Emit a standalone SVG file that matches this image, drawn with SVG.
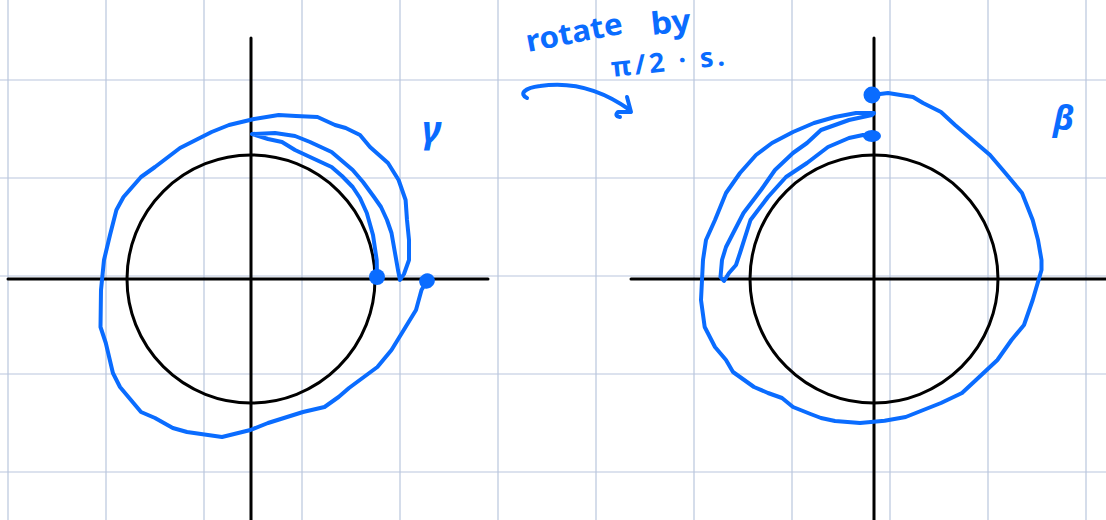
<svg xmlns="http://www.w3.org/2000/svg" width="1106" height="520" viewBox="0 0 1106 520">
<style>
.grid{stroke:#b9c6dd;stroke-width:1.2}
.ax{stroke:#000;stroke-width:3;fill:none;stroke-linecap:round}
.ink{stroke:#0a6cff;stroke-width:4;fill:none;stroke-linecap:round;stroke-linejoin:round}
.dot{fill:#0a6cff}
.hand{fill:#0a6cff;font-family:"Noto Sans","DejaVu Sans",sans-serif;font-weight:bold}
</style>
<rect width="1106" height="520" fill="#fff"/>
<g id="grid">
<line class="grid" x1="8" y1="0" x2="8" y2="520"/>
<line class="grid" x1="106" y1="0" x2="106" y2="520"/>
<line class="grid" x1="204" y1="0" x2="204" y2="520"/>
<line class="grid" x1="302" y1="0" x2="302" y2="520"/>
<line class="grid" x1="400" y1="0" x2="400" y2="520"/>
<line class="grid" x1="498" y1="0" x2="498" y2="520"/>
<line class="grid" x1="596" y1="0" x2="596" y2="520"/>
<line class="grid" x1="694" y1="0" x2="694" y2="520"/>
<line class="grid" x1="792" y1="0" x2="792" y2="520"/>
<line class="grid" x1="890" y1="0" x2="890" y2="520"/>
<line class="grid" x1="988" y1="0" x2="988" y2="520"/>
<line class="grid" x1="1086" y1="0" x2="1086" y2="520"/>
<line class="grid" x1="0" y1="80" x2="1106" y2="80"/>
<line class="grid" x1="0" y1="178" x2="1106" y2="178"/>
<line class="grid" x1="0" y1="276" x2="1106" y2="276"/>
<line class="grid" x1="0" y1="374" x2="1106" y2="374"/>
<line class="grid" x1="0" y1="472" x2="1106" y2="472"/>
</g>
<g id="left-plot">
<line class="ax" x1="251" y1="38" x2="251" y2="520"/>
<line class="ax" x1="8" y1="279" x2="488" y2="279"/>
<circle class="ax" cx="251" cy="279" r="124"/>
</g>
<g id="right-plot">
<line class="ax" x1="874" y1="38" x2="874" y2="520"/>
<line class="ax" x1="631" y1="279" x2="1106" y2="279"/>
<circle class="ax" cx="874" cy="279" r="124"/>
</g>
<g id="gamma">
<path class="ink" d="M 377 277 L 376.7 260 L 373 235 L 366.8 213 L 360 198 L 352.7 187 L 342 176 L 331.6 167 L 310 157 L 295 150 L 282 142 L 268 139 L 252 134 L 275 133 L 295 136 L 310 142 L 331.6 152 L 352.7 170 L 363 182 L 374 197 L 381 207 L 387 220 L 391.5 233 L 395 253 L 398 270 L 400 280 L 404 274 L 409 260 L 409 240 L 407 220 L 405.6 200 L 398.6 180 L 388 163 L 370 147 L 360 135 L 345.7 128 L 335 125 L 317.5 117 L 296 116 L 278.7 115 L 254 119 L 229 125 L 211.6 132 L 180 148 L 155 167 L 141 177 L 123.5 197 L 116.4 210 L 110 235 L 104 260 L 101 290 L 100.5 327 L 105.8 343 L 112.9 373 L 120 387 L 141 412 L 155 418 L 172.8 428 L 187 432 L 222 437 L 250.4 430 L 268 423 L 303 412 L 324.5 407 L 338.6 397 L 349 388 L 377.4 367 L 391.5 350 L 405.6 327 L 416 310 L 421.5 290 L 426.8 281"/>
<circle class="dot" cx="377" cy="277" r="8"/>
<ellipse class="dot" cx="427" cy="281" rx="8" ry="7.5" transform="rotate(-30 427 281)"/>
<text class="hand" x="422" y="143" font-size="38" font-style="italic">γ</text>
</g>
<g id="beta">
<path class="ink" d="M 872 95 L 888 93 L 913 97 L 923 103 L 941 112 L 955 125 L 976 143 L 990 155 L 1004.5 172 L 1022 193 L 1032.7 220 L 1038 240 L 1041.5 260 L 1041.5 270 L 1032.7 300 L 1024 325 L 1011.5 340 L 997.4 360 L 976 380 L 962 393 L 941 403 L 905.7 417 L 884.6 420.7 L 860 423 L 835 421 L 821 418 L 810.5 414 L 793 407 L 782 398 L 768 393 L 754 387 L 733 372 L 726 360 L 715 347 L 704.7 327 L 701 300 L 703 260 L 706 240 L 715 220 L 726 193 L 740 173 L 756 155 L 772 143 L 793 132 L 814 123 L 835 117 L 856 113 L 874 113 L 872 115 L 849 120 L 821 130 L 807 143 L 793 153 L 775 170 L 761 190 L 743.5 213 L 726 247 L 722 260 L 720.5 277 L 724 281 L 729 273 L 736 265 L 740 253 L 750.5 220 L 768 197 L 786 177 L 807 163 L 828 147 L 849 138 L 863 135 L 872 136"/>
<circle class="dot" cx="872" cy="95" r="8.5"/>
<ellipse class="dot" cx="872" cy="136" rx="9" ry="6"/>
<text class="hand" x="1053" y="130" font-size="34" font-style="italic">β</text>
</g>
<g id="connectors">
<path class="ink" d="M 527 98 C 519 94, 524 88, 540 86 C 572 81, 602 90, 630 110"/>
<path class="ink" d="M 627 97 L 631 112 L 618 112 Q 614 116 620 117"/>
</g>
<g id="label">
<text class="hand" x="528" y="52" font-size="30" transform="rotate(-11 528 52)" textLength="98" lengthAdjust="spacingAndGlyphs">rotate</text>
<text class="hand" x="652" y="35" font-size="31" transform="rotate(-6 652 35)" textLength="40" lengthAdjust="spacingAndGlyphs">by</text>
<text class="hand" x="612" y="77" font-size="27" transform="rotate(-6 612 77)" textLength="114" lengthAdjust="spacing">π/2 · s.</text>
</g>
</svg>
